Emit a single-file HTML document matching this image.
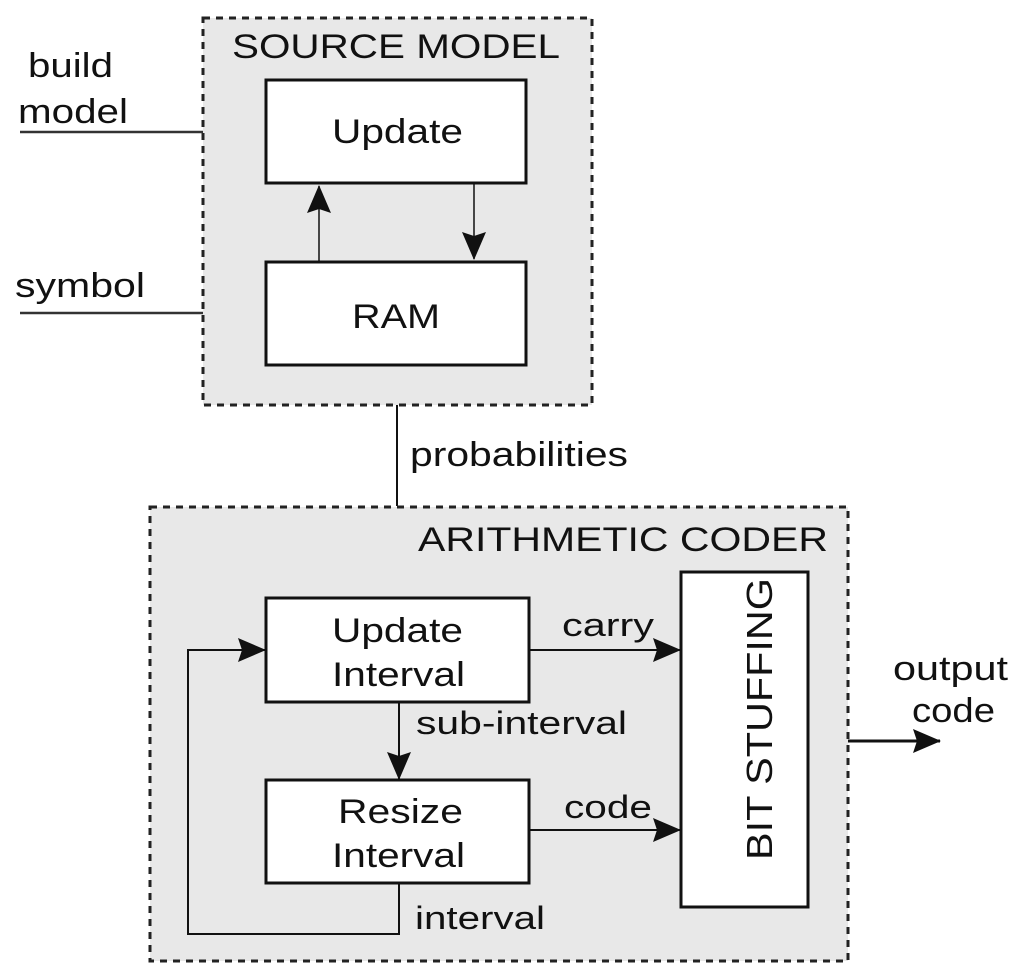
<!DOCTYPE html>
<html><head><meta charset="utf-8"><style>
html,body{margin:0;padding:0;background:#fff;}
svg{display:block;}
text{font-family:"Liberation Sans",Arial,sans-serif;fill:#111;}
</style></head><body>
<svg width="1024" height="980" viewBox="0 0 1024 980" xmlns="http://www.w3.org/2000/svg">
<defs>
<marker id="b" markerWidth="28" markerHeight="24" refX="27" refY="12" orient="auto" markerUnits="userSpaceOnUse" viewBox="0 0 28 24">
<path d="M0,0 L28,12 L0,24 L4,12 Z" fill="#111"/></marker>
</defs>
<!-- source model -->
<rect x="203" y="18" width="389" height="387" fill="#e8e8e8" stroke="#222" stroke-width="3" stroke-dasharray="7,6"/>
<text x="232" y="58" font-size="34" textLength="328" lengthAdjust="spacingAndGlyphs">SOURCE MODEL</text>
<rect x="266" y="80" width="260" height="103" fill="#fff" stroke="#111" stroke-width="3"/>
<text x="332" y="143" font-size="34" textLength="131" lengthAdjust="spacingAndGlyphs">Update</text>
<rect x="266" y="262" width="260" height="103" fill="#fff" stroke="#111" stroke-width="3"/>
<text x="352" y="328" font-size="34" textLength="88" lengthAdjust="spacingAndGlyphs">RAM</text>
<line x1="319" y1="261" x2="319" y2="186" stroke="#111" stroke-width="1.5" marker-end="url(#b)"/>
<line x1="474" y1="184" x2="474" y2="259" stroke="#111" stroke-width="1.5" marker-end="url(#b)"/>
<text x="28" y="77" font-size="34" textLength="85" lengthAdjust="spacingAndGlyphs">build</text>
<text x="18" y="123" font-size="34" textLength="110" lengthAdjust="spacingAndGlyphs">model</text>
<line x1="20" y1="132" x2="203" y2="132" stroke="#333" stroke-width="2.5"/>
<text x="15" y="297" font-size="34" textLength="130" lengthAdjust="spacingAndGlyphs">symbol</text>
<line x1="20" y1="313" x2="203" y2="313" stroke="#333" stroke-width="2.5"/>
<line x1="397" y1="405" x2="397" y2="506" stroke="#111" stroke-width="2"/>
<text x="410" y="466" font-size="34" textLength="218" lengthAdjust="spacingAndGlyphs">probabilities</text>
<!-- arithmetic coder -->
<rect x="150" y="507" width="698" height="454" fill="#e8e8e8" stroke="#222" stroke-width="3" stroke-dasharray="7,6"/>
<text x="418" y="551" font-size="34" textLength="410" lengthAdjust="spacingAndGlyphs">ARITHMETIC CODER</text>
<rect x="266" y="598" width="263" height="104" fill="#fff" stroke="#111" stroke-width="3"/>
<text x="332" y="642" font-size="34" textLength="131" lengthAdjust="spacingAndGlyphs">Update</text>
<text x="332" y="686" font-size="34" textLength="133" lengthAdjust="spacingAndGlyphs">Interval</text>
<rect x="266" y="780" width="263" height="103" fill="#fff" stroke="#111" stroke-width="3"/>
<text x="338" y="823" font-size="34" textLength="125" lengthAdjust="spacingAndGlyphs">Resize</text>
<text x="332" y="867" font-size="34" textLength="133" lengthAdjust="spacingAndGlyphs">Interval</text>
<rect x="681" y="572" width="127" height="335" fill="#fff" stroke="#111" stroke-width="3"/>
<text transform="translate(772,860) rotate(-90)" font-size="36" textLength="282" lengthAdjust="spacingAndGlyphs">BIT STUFFING</text>
<line x1="529" y1="650" x2="680" y2="650" stroke="#111" stroke-width="2" marker-end="url(#b)"/>
<text x="562" y="636" font-size="32" textLength="92" lengthAdjust="spacingAndGlyphs">carry</text>
<line x1="529" y1="830" x2="680" y2="830" stroke="#111" stroke-width="2" marker-end="url(#b)"/>
<text x="564" y="818" font-size="32" textLength="88" lengthAdjust="spacingAndGlyphs">code</text>
<line x1="399" y1="702" x2="399" y2="779" stroke="#111" stroke-width="2" marker-end="url(#b)"/>
<text x="416" y="734" font-size="32" textLength="211" lengthAdjust="spacingAndGlyphs">sub-interval</text>
<polyline points="399,883 399,934 188,934 188,650 265,650" fill="none" stroke="#111" stroke-width="2" marker-end="url(#b)"/>
<text x="415" y="929" font-size="32" textLength="130" lengthAdjust="spacingAndGlyphs">interval</text>
<line x1="848" y1="741" x2="940" y2="741" stroke="#111" stroke-width="3" marker-end="url(#b)"/>
<text x="893" y="680" font-size="34" textLength="115" lengthAdjust="spacingAndGlyphs">output</text>
<text x="912" y="722" font-size="34" textLength="83" lengthAdjust="spacingAndGlyphs">code</text>
</svg>
</body></html>
